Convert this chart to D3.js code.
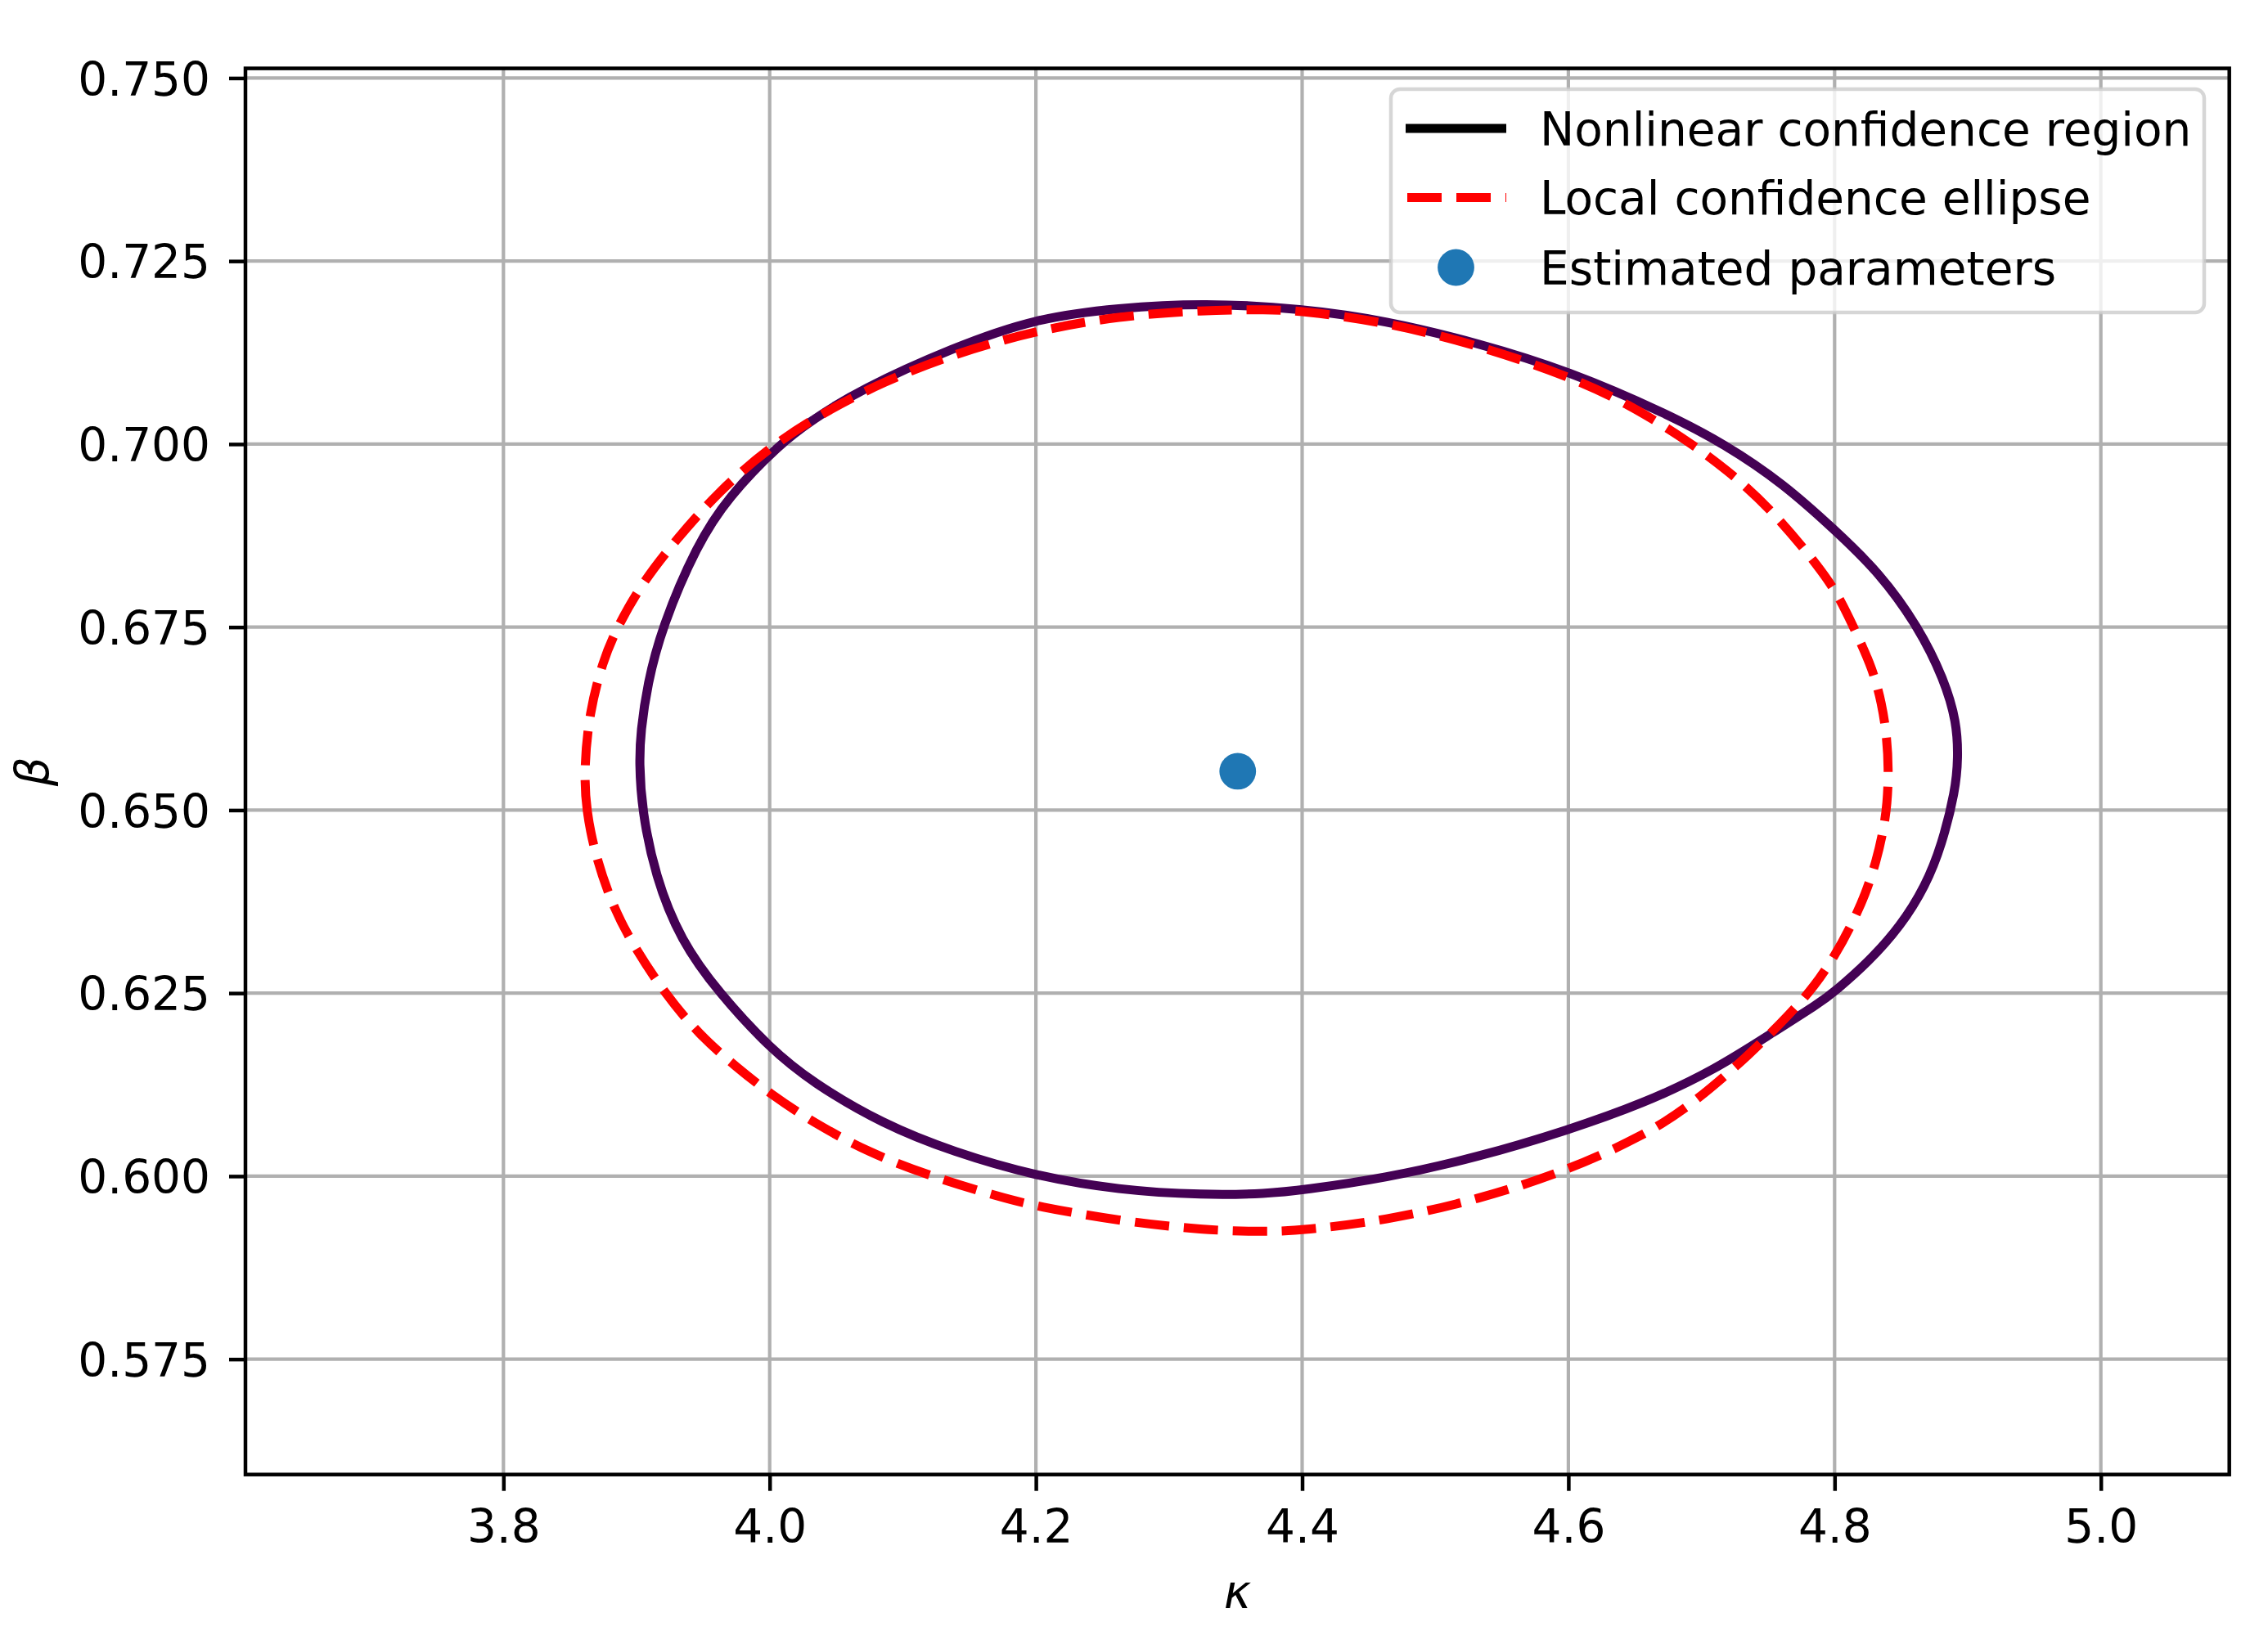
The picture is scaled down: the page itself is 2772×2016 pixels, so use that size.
<!DOCTYPE html>
<html>
<head>
<meta charset="utf-8">
<script src="https://cdn.jsdelivr.net/npm/d3@7/dist/d3.min.js"></script>
<style>
  html, body { margin: 0; padding: 0; background: #ffffff; }
  svg { display: block; }
  text { font-family: "DejaVu Sans", sans-serif; }
</style>
</head>
<body>
<div id="chart"></div>
<script>
// ---- data ----
const xTicks = [3.8, 4.0, 4.2, 4.4, 4.6, 4.8, 5.0];
const yTicks = [0.575, 0.600, 0.625, 0.650, 0.675, 0.700, 0.725, 0.750];
const xDomain = [3.6062, 5.0965];
const yDomain = [0.55924, 0.75132];

// Nonlinear confidence region (kappa, beta)
const nonlinearRegion = [
  [3.902,0.6566],[3.904,0.650],[3.914,0.6410],[3.933,0.6322],[3.962,0.625],
  [4.000,0.6175],[4.032,0.6128],[4.085,0.6071],[4.138,0.6033],[4.200,0.600],
  [4.262,0.5981],[4.326,0.5974],[4.374,0.5976],[4.400,0.5981],[4.462,0.5997],
  [4.5325,0.6026],[4.600,0.6063],[4.656,0.6099],[4.709,0.6144],[4.756,0.6199],
  [4.7883,0.6236],[4.8006,0.6253],[4.8252,0.6292],[4.8498,0.6342],[4.8682,0.6396],
  [4.8805,0.6452],[4.8908,0.6527],[4.8928,0.6571],[4.8918,0.6620],[4.8822,0.6679],
  [4.8631,0.675],[4.8334,0.6825],[4.800,0.6883],[4.7615,0.6946],[4.7175,0.700],
  [4.6735,0.7042],[4.600,0.710],[4.5325,0.7138],[4.462,0.7169],[4.400,0.7185],
  [4.326,0.7193],[4.262,0.7186],[4.200,0.7172],[4.138,0.7132],[4.0676,0.7074],
  [4.032,0.7033],[4.0074,0.700],[3.9685,0.6927],[3.9455,0.6863],[3.919,0.675],
  [3.908,0.6671],[3.9031,0.6607]
];

// Local confidence ellipse (kappa, beta)
const localEllipse = [
  [3.8606,0.6557],[3.8620,0.650],[3.8697,0.6433],[3.883,0.6365],[3.898,0.6314],
  [3.921,0.625],[3.947,0.6193],[3.9756,0.6148],[4.000,0.6113],[4.032,0.6074],
  [4.0746,0.6032],[4.1206,0.600],[4.1737,0.5971],[4.200,0.5959],[4.262,0.5939],
  [4.326,0.5926],[4.374,0.5924],[4.400,0.5926],[4.462,0.5939],[4.5325,0.5968],
  [4.600,0.6008],[4.656,0.6055],[4.6911,0.6095],[4.737,0.6167],[4.7686,0.6226],
  [4.7843,0.6258],[4.8006,0.6302],[4.8129,0.6344],[4.8232,0.6385],[4.8313,0.6430],
  [4.8365,0.6471],[4.8396,0.6508],[4.8406,0.6556],[4.8392,0.6601],[4.8355,0.6646],
  [4.8283,0.6694],[4.817,0.6739],[4.8047,0.6787],[4.7904,0.6828],[4.751,0.6914],
  [4.719,0.6965],[4.6876,0.7007],[4.645,0.7055],[4.600,0.7093],[4.5325,0.7135],
  [4.462,0.7167],[4.400,0.7182],[4.3745,0.7184],[4.326,0.7183],[4.262,0.7175],
  [4.200,0.7155],[4.138,0.7123],[4.085,0.7085],[4.0393,0.7042],[4.000,0.6996],
  [3.9614,0.6935],[3.9296,0.6869],[3.9048,0.6812],[3.8854,0.675],[3.8745,0.6703],
  [3.8645,0.6633]
];

// Estimated parameters
const estimate = [[4.3516, 0.6553]];

const legendLabels = ["Nonlinear confidence region", "Local confidence ellipse", "Estimated parameters"];
const xLabel = "κ";
const yLabel = "β";

// ---- layout ----
const W = 2772, H = 2016;
const plot = { left: 300, right: 2724.7, top: 83.6, bottom: 1802.7 };
const FS = 56.5;
const LW = 11;
const C = { purple: "#440154", red: "#ff0000", blue: "#1f77b4", grid: "#b0b0b0" };

const svg = d3.select("#chart").append("svg")
  .attr("width", W).attr("height", H)
  .attr("viewBox", `0 0 ${W} ${H}`);
svg.append("rect").attr("width", W).attr("height", H).attr("fill", "#ffffff");

const x = d3.scaleLinear().domain(xDomain).range([plot.left, plot.right]);
const y = d3.scaleLinear().domain(yDomain).range([plot.bottom, plot.top]);

const clipId = "plotclip";
svg.append("defs").append("clipPath").attr("id", clipId)
  .append("rect")
  .attr("x", plot.left).attr("y", plot.top)
  .attr("width", plot.right - plot.left).attr("height", plot.bottom - plot.top);

// grid
const grid = svg.append("g").attr("clip-path", `url(#${clipId})`);
grid.selectAll("line.gx").data(xTicks).join("line")
  .attr("x1", d => x(d)).attr("x2", d => x(d))
  .attr("y1", plot.top).attr("y2", plot.bottom)
  .attr("stroke", C.grid).attr("stroke-width", 4.2);
grid.selectAll("line.gy").data(yTicks).join("line")
  .attr("y1", d => y(d)).attr("y2", d => y(d))
  .attr("x1", plot.left).attr("x2", plot.right)
  .attr("stroke", C.grid).attr("stroke-width", 4.2);

// curves
const line = d3.line()
  .x(d => x(d[0])).y(d => y(d[1]))
  .curve(d3.curveBasisClosed);

const marks = svg.append("g").attr("clip-path", `url(#${clipId})`);
marks.append("path").datum(nonlinearRegion)
  .attr("d", line)
  .attr("fill", "none").attr("stroke", C.purple)
  .attr("stroke-width", LW).attr("stroke-linejoin", "round");
marks.append("path").datum(localEllipse)
  .attr("d", line)
  .attr("fill", "none").attr("stroke", C.red)
  .attr("stroke-width", LW).attr("stroke-dasharray", "42 18");
marks.selectAll("circle.est").data(estimate).join("circle")
  .attr("cx", d => x(d[0])).attr("cy", d => y(d[1]))
  .attr("r", 22.4).attr("fill", C.blue);

// axes
const xAxis = d3.axisBottom(x).tickValues(xTicks).tickFormat(d3.format(".1f"))
  .tickSize(20).tickPadding(23);
const yAxis = d3.axisLeft(y).tickValues(yTicks).tickFormat(d3.format(".3f"))
  .tickSize(20).tickPadding(23);

const gx = svg.append("g").attr("transform", `translate(0,${plot.bottom})`).call(xAxis);
const gy = svg.append("g").attr("transform", `translate(${plot.left},0)`).call(yAxis);
[gx, gy].forEach(g => {
  g.select(".domain").remove();
  g.selectAll(".tick line").attr("stroke", "#000").attr("stroke-width", 4.5);
  g.selectAll(".tick text").attr("fill", "#000")
    .style("font-family", '"DejaVu Sans", sans-serif').style("font-size", FS + "px");
});
gy.selectAll(".tick text").attr("dy", "0.365em");

// frame
svg.append("rect")
  .attr("x", plot.left).attr("y", plot.top)
  .attr("width", plot.right - plot.left).attr("height", plot.bottom - plot.top)
  .attr("fill", "none").attr("stroke", "#000").attr("stroke-width", 4.5)
  .attr("stroke-linecap", "square");

// axis labels
svg.append("text")
  .attr("x", (plot.left + plot.right) / 2).attr("y", 1966)
  .attr("text-anchor", "middle")
  .style("font-size", FS + "px").style("font-style", "italic")
  .text(xLabel);
svg.append("text")
  .attr("transform", `translate(59,${(plot.top + plot.bottom) / 2}) rotate(-90)`)
  .attr("text-anchor", "middle")
  .style("font-size", FS + "px").style("font-style", "italic")
  .text(yLabel);

// legend
const lg = svg.append("g");
lg.append("rect")
  .attr("x", 1700).attr("y", 109).attr("width", 994).attr("height", 273)
  .attr("rx", 11).attr("ry", 11)
  .attr("fill", "#ffffff").attr("fill-opacity", 0.8)
  .attr("stroke", "#cccccc").attr("stroke-opacity", 0.8).attr("stroke-width", 4.5);

const rowY = [157, 241.5, 327];
const hx0 = 1718, hx1 = 1841, tx = 1882;
lg.append("line").attr("x1", hx0).attr("x2", hx1).attr("y1", rowY[0]).attr("y2", rowY[0])
  .attr("stroke", "#000").attr("stroke-width", LW);
lg.append("line").attr("x1", hx0 + 2).attr("x2", hx1).attr("y1", rowY[1]).attr("y2", rowY[1])
  .attr("stroke", C.red).attr("stroke-width", LW).attr("stroke-dasharray", "42 18");
lg.append("circle").attr("cx", (hx0 + hx1) / 2).attr("cy", rowY[2]).attr("r", 22.4)
  .attr("fill", C.blue);
lg.selectAll("text.lab").data(legendLabels).join("text")
  .attr("x", tx).attr("y", (d, i) => rowY[i]).attr("dy", "0.365em")
  .style("font-size", FS + "px").attr("fill", "#000")
  .text(d => d);
</script>
</body>
</html>
